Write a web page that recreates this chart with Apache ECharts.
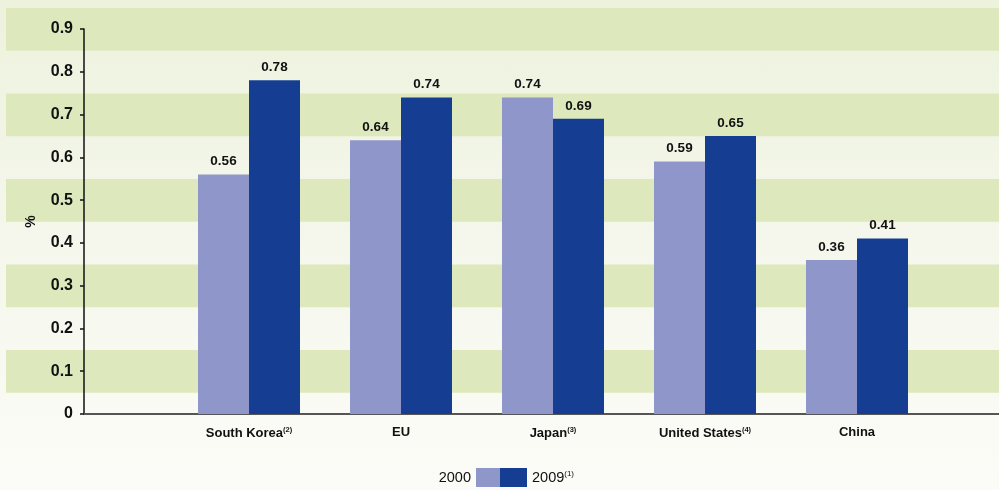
<!DOCTYPE html>
<html>
<head>
<meta charset="utf-8">
<script src="https://cdn.jsdelivr.net/npm/echarts@6/dist/echarts.min.js"></script>
<style>
html,body{margin:0;padding:0;}
#c{width:999px;height:490px;background:linear-gradient(to bottom,#edf2dd 0%,#f5f7ec 50%,#fbfcf7 100%);}
</style>
</head>
<body>
<div id="c"></div>
<script>
const categories = ['South Korea{sup|(2)}', 'EU', 'Japan{sup|(3)}', 'United States{sup|(4)}', 'China'];
const values2000 = [0.56, 0.64, 0.74, 0.59, 0.36];
const values2009 = [0.78, 0.74, 0.69, 0.65, 0.41];
const yTicks = [0, 0.1, 0.2, 0.3, 0.4, 0.5, 0.6, 0.7, 0.8, 0.9];
const seriesNames = ['2000', '2009'];

const FONT = '"Liberation Sans", Arial, Helvetica, sans-serif';
const chart = echarts.init(document.getElementById('c'));

const labelStyle = {
  show: true, position: 'top', distance: 6,
  fontFamily: FONT, fontSize: 13.5, fontWeight: 'bold', color: '#111',
  formatter: p => p.value.toFixed(2)
};

chart.setOption({
  animation: false,
  textStyle: { fontFamily: FONT },
  grid: [
    { left: 6, right: 0, top: 8, bottom: 54.6, show: false },      // background bands
    { left: 84, right: 0, top: 29, bottom: 76, show: false },      // axes
    { left: 173, right: 66, top: 29, bottom: 76, show: false }     // bars
  ],
  xAxis: [
    { gridIndex: 0, type: 'value', min: 0, max: 1, show: false },
    { gridIndex: 1, type: 'value', min: 0, max: 1,
      axisLine: { show: true, onZero: false, lineStyle: { color: '#555', width: 2 } },
      axisTick: { show: false }, axisLabel: { show: false }, splitLine: { show: false } },
    { gridIndex: 2, type: 'category', data: categories,
      axisLine: { show: false }, axisTick: { show: false }, splitLine: { show: false },
      axisLabel: {
        interval: 0, margin: 12, fontFamily: FONT, fontSize: 13, fontWeight: 'bold', color: '#111',
        rich: { sup: { fontSize: 7.5, fontWeight: 'bold', verticalAlign: 'top', padding: [0, 0, 6, 0], color: '#111' } }
      } }
  ],
  yAxis: [
    { gridIndex: 0, type: 'value', min: 0, max: 1, interval: 0.1,
      axisLine: { show: false }, axisTick: { show: false }, axisLabel: { show: false }, splitLine: { show: false },
      splitArea: { show: true, areaStyle: { color: ['rgba(0,0,0,0)', '#dde8bd'] } } },
    { gridIndex: 1, type: 'value', min: yTicks[0], max: yTicks[yTicks.length - 1], interval: 0.1,
      name: '%', nameLocation: 'middle', nameGap: 46, nameRotate: 90,
      nameTextStyle: { fontFamily: FONT, fontSize: 14, fontWeight: 'bold', color: '#111' },
      axisLine: { show: true, lineStyle: { color: '#111', width: 1.5 } },
      axisTick: { show: true, length: 4, lineStyle: { color: '#111', width: 1.5 } },
      axisLabel: { margin: 11, fontFamily: FONT, fontSize: 16, fontWeight: 'bold', color: '#111',
        formatter: v => v === 0 ? '0' : v.toFixed(1) },
      splitLine: { show: false } },
    { gridIndex: 2, type: 'value', min: 0, max: 0.9, show: false }
  ],
  legend: [
    { data: [seriesNames[0]], right: 499, top: 468, padding: 0, align: 'right', itemWidth: 24, itemHeight: 19, itemGap: 0,
      icon: 'rect', selectedMode: false,
      textStyle: { fontFamily: FONT, fontSize: 14.5, color: '#111' } },
    { data: [seriesNames[1]], left: 500, top: 468, padding: 0, align: 'left', itemWidth: 27, itemHeight: 19, itemGap: 0,
      icon: 'rect', selectedMode: false,
      formatter: n => n + '{sup|(1)}',
      textStyle: { fontFamily: FONT, fontSize: 14.5, color: '#111',
        rich: { sup: { fontSize: 8, verticalAlign: 'top', padding: [0, 0, 7, 0], color: '#111' } } } }
  ],
  series: [
    { name: seriesNames[0], type: 'bar', xAxisIndex: 2, yAxisIndex: 2, data: values2000,
      barWidth: 51, barGap: '0%', itemStyle: { color: '#8e96ca' }, label: labelStyle },
    { name: seriesNames[1], type: 'bar', xAxisIndex: 2, yAxisIndex: 2, data: values2009,
      barWidth: 51, barGap: '0%', itemStyle: { color: '#153e93' }, label: labelStyle },
    { type: 'line', xAxisIndex: 0, yAxisIndex: 0, data: [], silent: true },
    { type: 'line', xAxisIndex: 1, yAxisIndex: 1, data: [], silent: true }
  ]
});
</script>
</body>
</html>
